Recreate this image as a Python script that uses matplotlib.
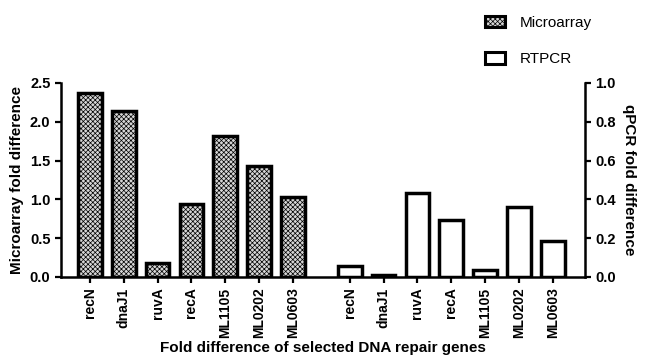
import numpy as np
import matplotlib.pyplot as plt
import matplotlib.patches as mpatches

plt.rcParams['font.family'] = ['Liberation Sans', 'DejaVu Sans']
plt.rcParams['hatch.linewidth'] = 0.5
plt.rcParams['hatch.color'] = '#555555'

genes = ["recN", "dnaJ1", "ruvA", "recA", "ML1105", "ML0202", "ML0603"]
microarray = [2.37, 2.14, 0.18, 0.94, 1.81, 1.43, 1.03]
rtpcr = [0.057, 0.009, 0.435, 0.294, 0.036, 0.36, 0.186]

x1 = np.arange(len(genes))
x2 = x1 + 7.68

fig = plt.figure(figsize=(6.48, 3.56), dpi=100)
ax = fig.add_axes([0.094, 0.222, 0.809, 0.545])
ax2 = ax.twinx()

ax.bar(x1, microarray, width=0.7, facecolor='#d6d6d6', edgecolor='black',
       linewidth=2.5, hatch='xxxxxxx')
ax2.bar(x2, rtpcr, width=0.7, facecolor='white', edgecolor='black',
        linewidth=2.5)

ax.set_xlim(-0.86, 14.64)
ax.set_ylim(0, 2.5)
ax2.set_ylim(0, 1.0)
ax.set_yticks([0, 0.5, 1.0, 1.5, 2.0, 2.5])
ax.set_yticklabels(["0.0", "0.5", "1.0", "1.5", "2.0", "2.5"])
ax2.set_yticks([0, 0.2, 0.4, 0.6, 0.8, 1.0])
ax2.set_yticklabels(["0.0", "0.2", "0.4", "0.6", "0.8", "1.0"])

ax.set_xticks(np.concatenate([x1, x2]))
ax.set_xticklabels(genes + genes, rotation=90, fontweight='bold', fontsize=10)

for a in (ax, ax2):
    a.spines['top'].set_visible(False)
    for s in a.spines.values():
        s.set_linewidth(1.8)
    a.tick_params(width=1.6, length=4)
    for lab in a.get_yticklabels():
        lab.set_fontweight('bold')
        lab.set_fontsize(10.5)
ax.spines['right'].set_visible(False)
ax2.spines['left'].set_visible(False)
ax2.spines['bottom'].set_visible(False)

ax.set_ylabel("Microarray fold difference", fontweight='bold', fontsize=11)
ax2.set_ylabel("qPCR fold difference", fontweight='bold', fontsize=11,
               rotation=270, labelpad=14)
ax.set_xlabel("Fold difference of selected DNA repair genes",
              fontweight='bold', fontsize=11, labelpad=2)

h1 = mpatches.Patch(facecolor='#d6d6d6', edgecolor='black', linewidth=2.2,
                    hatch='xxxxxxx', label='Microarray')
h2 = mpatches.Patch(facecolor='white', edgecolor='black', linewidth=2.2,
                    label='RTPCR')
fig.legend(handles=[h1, h2], loc='upper left', bbox_to_anchor=(0.727, 0.995),
           frameon=False, fontsize=11, labelspacing=1.45,
           handlelength=1.3, handleheight=0.8, handletextpad=1.0)

fig.savefig("out.png", dpi=100)
